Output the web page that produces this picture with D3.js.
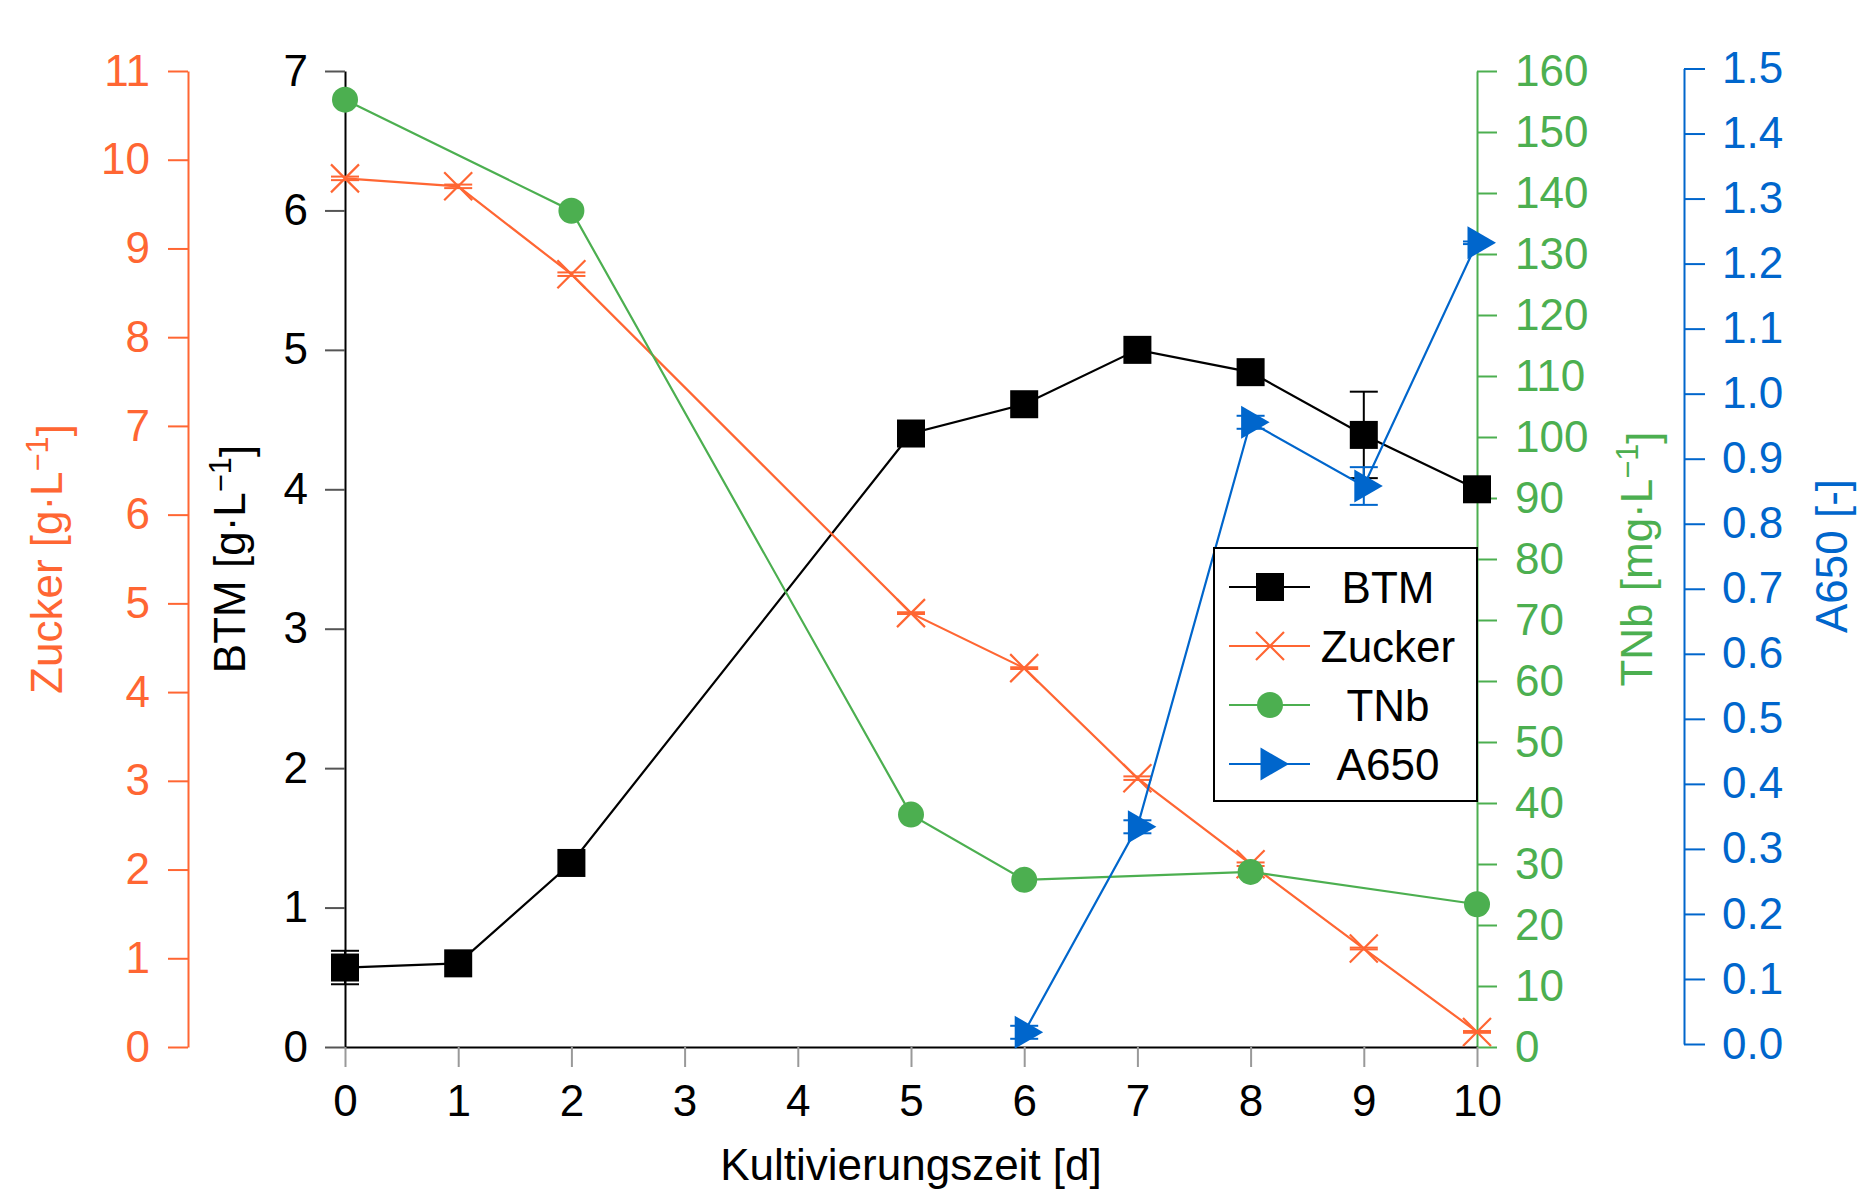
<!DOCTYPE html>
<html>
<head>
<meta charset="utf-8">
<script src="https://cdn.jsdelivr.net/npm/d3@7"></script>
<style>
  body { margin: 0; background: #fff; }
  svg { display: block; font-family: "Liberation Sans", Arial, sans-serif; }
</style>
</head>
<body>
<svg id="chart" width="1857" height="1194"></svg>
<script>
// --- data -----------------------------------------------
const btmDays = [0, 1, 2, 5, 6, 7, 8, 9, 10];
const btm = [0.57, 0.60, 1.32, 4.40, 4.61, 5.00, 4.84, 4.39, 4.00];
const btmErr = [0.12, 0, 0, 0, 0, 0, 0, 0.31, 0];

const zuckerDays = [0, 1, 2, 5, 6, 7, 8, 9, 10];
const zucker = [9.79, 9.70, 8.71, 4.89, 4.27, 3.03, 2.06, 1.11, 0.17];
const zuckerErr = [0.02, 0.02, 0.02, 0.01, 0.01, 0.02, 0.02, 0.01, 0.01];

const tnbDays = [0, 2, 5, 6, 8, 10];
const tnb = [155.3, 137.1, 38.1, 27.4, 28.7, 23.4];

const a650Days = [6, 7, 8, 9, 10];
const a650 = [0.018, 0.334, 0.956, 0.858, 1.232];
const a650Err = [0.01, 0.01, 0.01, 0.029, 0.002];

const xTicks = [0, 1, 2, 3, 4, 5, 6, 7, 8, 9, 10];
const btmTicks = [0, 1, 2, 3, 4, 5, 6, 7];
const zuckerTicks = [0, 1, 2, 3, 4, 5, 6, 7, 8, 9, 10, 11];
const tnbTicks = [0, 10, 20, 30, 40, 50, 60, 70, 80, 90, 100, 110, 120, 130, 140, 150, 160];
const a650Ticks = [0, 0.1, 0.2, 0.3, 0.4, 0.5, 0.6, 0.7, 0.8, 0.9, 1.0, 1.1, 1.2, 1.3, 1.4, 1.5];

const black = "#000", orange = "#ff6633", green = "#4caf50", blue = "#0066cc";
const fontSize = 44;
const intFmt = d3.format("d");

const svg = d3.select("#chart");

// --- scales ------------------------------------------------
const x = d3.scaleLinear().domain([0, 10]).range([345, 1477]);
const yBtm = d3.scaleLinear().domain([0, 7]).range([1047, 71]);
const yZucker = d3.scaleLinear().domain([0, 11]).range([1047, 71]);
const yTnb = d3.scaleLinear().domain([0, 160]).range([1047, 71]);
const yA650 = d3.scaleLinear().domain([0, 1.5]).range([1044, 68.5]);

// style an axis group after d3 made it
function styleAxis(g, color, tickColor) {
  g.attr("font-size", fontSize).attr("font-family", null);
  g.select(".domain").attr("stroke", color).attr("stroke-width", 2);
  g.selectAll(".tick line").attr("stroke", tickColor).attr("stroke-width", 2);
  g.selectAll(".tick text").attr("fill", color);
}

// --- axes ---------------------------------------------------
svg.append("g")
  .attr("transform", "translate(188,0)")
  .call(d3.axisLeft(yZucker).tickValues(zuckerTicks).tickFormat(intFmt).tickSize(20).tickSizeOuter(0).tickPadding(18))
  .call(g => styleAxis(g, orange, orange));

svg.append("g")
  .attr("transform", "translate(345,0)")
  .call(d3.axisLeft(yBtm).tickValues(btmTicks).tickFormat(intFmt).tickSize(20).tickSizeOuter(0).tickPadding(17))
  .call(g => styleAxis(g, black, "#555"));

svg.append("g")
  .attr("transform", "translate(1477,0)")
  .call(d3.axisRight(yTnb).tickValues(tnbTicks).tickFormat(intFmt).tickSize(20).tickSizeOuter(0).tickPadding(18))
  .call(g => styleAxis(g, green, green));

svg.append("g")
  .attr("transform", "translate(1684,0)")
  .call(d3.axisRight(yA650).tickValues(a650Ticks).tickFormat(d3.format(".1f")).tickSize(21).tickSizeOuter(0).tickPadding(17))
  .call(g => styleAxis(g, blue, blue));

svg.append("g")
  .attr("transform", "translate(0,1047)")
  .call(d3.axisBottom(x).tickValues(xTicks).tickFormat(intFmt).tickSize(20).tickSizeOuter(0).tickPadding(18))
  .call(g => styleAxis(g, black, "#999"));

// --- axis titles (rotated) --------------------------------
function axisTitle(xPos, yPos, label, unit, color, rotate) {
  const t = svg.append("text")
    .attr("transform", `translate(${xPos},${yPos})` + (rotate ? " rotate(-90)" : ""))
    .attr("text-anchor", "middle")
    .attr("font-size", fontSize)
    .attr("fill", color);
  t.append("tspan").text(label + " [" + unit);
  if (unit.endsWith("L")) {
    t.append("tspan").attr("dy", "-0.45em").attr("font-size", fontSize * 0.7).text("\u22121");
    t.append("tspan").attr("dy", "0.45em").text("]");
  } else {
    t.append("tspan").text("]");
  }
}
axisTitle(62, 559, "Zucker", "g\u00b7L", orange, true);
axisTitle(245, 559, "BTM", "g\u00b7L", black, true);
axisTitle(1652, 559, "TNb", "mg\u00b7L", green, true);
axisTitle(1847, 556, "A650", "-", blue, true);
axisTitle(911, 1180, "Kultivierungszeit", "d", black, false);

// --- markers ------------------------------------------------
function drawMarker(g, kind, color) {
  if (kind === "square") {
    g.append("rect").attr("x", -14).attr("y", -14).attr("width", 28).attr("height", 28).attr("fill", color);
  } else if (kind === "cross") {
    g.append("path").attr("d", "M-14,-14L14,14M-14,14L14,-14")
      .attr("stroke", color).attr("stroke-width", 2.2).attr("fill", "none");
  } else if (kind === "circle") {
    g.append("circle").attr("r", 13).attr("fill", color);
  } else if (kind === "triangle") {
    g.append("path").attr("d", "M19,0L-9.5,-16.5L-9.5,16.5Z").attr("fill", color);
  }
}

// --- series ------------------------------------------------
function drawSeries(days, values, errs, y, color, kind) {
  const pts = days.map((d, i) => ({ d: d, v: values[i], e: errs ? errs[i] : 0 }));
  const g = svg.append("g");
  g.append("path")
    .datum(pts)
    .attr("fill", "none")
    .attr("stroke", color)
    .attr("stroke-width", 2.2)
    .attr("d", d3.line().x(p => x(p.d)).y(p => y(p.v)));

  // error bars
  const eb = g.selectAll(".err").data(pts.filter(p => p.e > 0)).enter().append("g")
    .attr("stroke", color).attr("stroke-width", 2);
  eb.append("line")
    .attr("x1", p => x(p.d)).attr("x2", p => x(p.d))
    .attr("y1", p => y(p.v - p.e)).attr("y2", p => y(p.v + p.e));
  eb.append("line")
    .attr("x1", p => x(p.d) - 14).attr("x2", p => x(p.d) + 14)
    .attr("y1", p => y(p.v + p.e)).attr("y2", p => y(p.v + p.e));
  eb.append("line")
    .attr("x1", p => x(p.d) - 14).attr("x2", p => x(p.d) + 14)
    .attr("y1", p => y(p.v - p.e)).attr("y2", p => y(p.v - p.e));

  g.selectAll(".mk").data(pts).enter().append("g")
    .attr("transform", p => `translate(${x(p.d)},${y(p.v)})`)
    .each(function () { drawMarker(d3.select(this), kind, color); });
}

drawSeries(btmDays, btm, btmErr, yBtm, black, "square");
drawSeries(zuckerDays, zucker, zuckerErr, yZucker, orange, "cross");
drawSeries(tnbDays, tnb, null, yTnb, green, "circle");
drawSeries(a650Days, a650, a650Err, yA650, blue, "triangle");

// --- legend ------------------------------------------------
const legendItems = [
  { name: "BTM", color: black, kind: "square" },
  { name: "Zucker", color: orange, kind: "cross" },
  { name: "TNb", color: green, kind: "circle" },
  { name: "A650", color: blue, kind: "triangle" }
];
const legend = svg.append("g");
legend.append("rect")
  .attr("x", 1214).attr("y", 548).attr("width", 263).attr("height", 253)
  .attr("fill", "#fff").attr("stroke", "#000").attr("stroke-width", 2);
const rowY = d3.scalePoint().domain(legendItems.map(d => d.name)).range([587, 764]);
legendItems.forEach(item => {
  const row = legend.append("g").attr("transform", `translate(0,${rowY(item.name)})`);
  row.append("line").attr("x1", 1229).attr("x2", 1310).attr("y1", 0).attr("y2", 0)
    .attr("stroke", item.color).attr("stroke-width", 2);
  drawMarker(row.append("g").attr("transform", "translate(1270,0)"), item.kind, item.color);
  row.append("text").attr("x", 1388).attr("dy", "0.36em").attr("text-anchor", "middle")
    .attr("font-size", fontSize).attr("fill", "#000").text(item.name);
});
</script>
</body>
</html>
